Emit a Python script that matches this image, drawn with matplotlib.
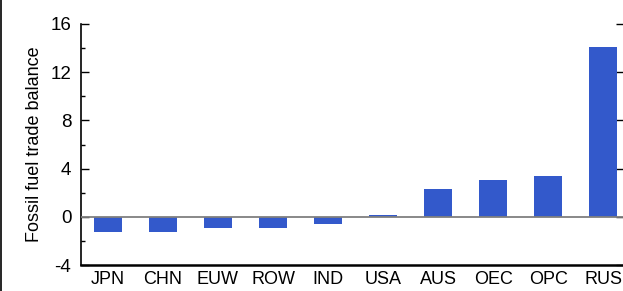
import matplotlib.pyplot as plt
from matplotlib.lines import Line2D
from matplotlib.ticker import MultipleLocator

# Data
regions = ['JPN', 'CHN', 'EUW', 'ROW', 'IND', 'USA', 'AUS', 'OEC', 'OPC', 'RUS']
balance = [-1.3, -1.25, -0.97, -0.89, -0.56, 0.17, 2.32, 3.07, 3.4, 14.1]
y_ticks = [-4, 0, 4, 8, 12, 16]

plt.rcParams['font.family'] = ['Liberation Sans', 'DejaVu Sans']

W, H = 623, 291
fig = plt.figure(figsize=(W / 100, H / 100), dpi=100)
ax = fig.add_axes([81 / W, 26 / H, (624 - 81) / W, (265 - 24) / H])

x = list(range(len(regions)))
ax.bar(x, balance, width=0.51, color='#3359CB', zorder=2)
ax.axhline(0, color='#7f7f7f', lw=1.3, zorder=3)

ax.set_xlim(-0.49, 9.38)
ax.set_ylim(-4, 16)
ax.set_yticks(y_ticks)
ax.set_yticklabels([str(t) for t in y_ticks])
ax.yaxis.set_minor_locator(MultipleLocator(2))
ax.set_xticks(x)
ax.set_xticklabels(regions)

ax.tick_params(axis='y', which='major', direction='in', length=6, width=1,
               labelsize=13.5, pad=7, right=True)
ax.tick_params(axis='y', which='minor', direction='in', length=3, width=1)
ax.tick_params(axis='x', length=0, labelsize=13, pad=4)

ax.spines['top'].set_visible(False)
ax.spines['right'].set_visible(False)
ax.spines['left'].set_linewidth(1.2)
ax.spines['bottom'].set_linewidth(1.8)

ax.set_ylabel('Fossil fuel trade balance', fontsize=13, labelpad=5)

# thin frame line on the figure's left edge
fig.add_artist(Line2D([1 / W, 1 / W], [0, 1], color='black', lw=1.2,
                      transform=fig.transFigure))

fig.savefig('out.png', dpi=100)
